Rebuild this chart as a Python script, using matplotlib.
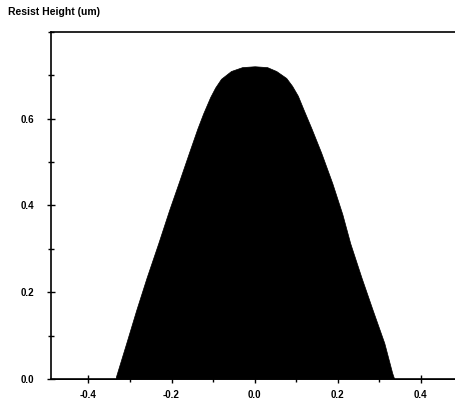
import numpy as np
import matplotlib
matplotlib.use("Agg")
import matplotlib.pyplot as plt
from matplotlib.ticker import MultipleLocator

# resist profile (position in um, height in um)
pos = [-0.49, -0.334, -0.334, -0.309, -0.285, -0.260, -0.232, -0.206, -0.182, -0.158,
       -0.138, -0.124, -0.107, -0.095, -0.081, -0.057, -0.030, 0.0,
       0.030, 0.052, 0.076, 0.090, 0.104, 0.119, 0.137, 0.160,
       0.187, 0.211, 0.230, 0.257, 0.284, 0.312, 0.331, 0.336, 0.5]
height = [0.0, 0.0, 0.005, 0.083, 0.159, 0.234, 0.313, 0.389, 0.455, 0.522,
          0.577, 0.612, 0.650, 0.672, 0.692, 0.710, 0.719, 0.721,
          0.719, 0.710, 0.694, 0.676, 0.653, 0.618, 0.577, 0.522,
          0.451, 0.380, 0.313, 0.234, 0.159, 0.083, 0.014, 0.0, 0.0]

x_ticks = [-0.4, -0.2, 0.0, 0.2, 0.4]
y_ticks = [0.0, 0.2, 0.4, 0.6]

plt.rcParams['font.family'] = ['Liberation Sans', 'DejaVu Sans']

fig = plt.figure(figsize=(4.56, 4.03), dpi=100, facecolor='white')
ax = fig.add_axes([0.112, 0.0596, 0.902, 0.861])

ax.fill_between(pos, height, 0, color='black', linewidth=0.5, edgecolor='black')

ax.set_xlim(-0.49, 0.5)
ax.set_ylim(0, 0.8)

ax.set_xticks(x_ticks)
ax.set_xticklabels([f"{v:.1f}" for v in x_ticks])
ax.set_yticks(y_ticks)
ax.set_yticklabels([f"{v:.1f}" for v in y_ticks])
ax.xaxis.set_minor_locator(MultipleLocator(0.1))
ax.yaxis.set_minor_locator(MultipleLocator(0.1))

ax.tick_params(axis='both', which='both', direction='inout', width=1.0, color='black')
ax.tick_params(axis='both', which='major', length=6, labelsize=7)
ax.tick_params(axis='both', which='minor', length=5)
ax.tick_params(axis='y', which='major', pad=9)
ax.tick_params(axis='x', which='major', pad=5)
for lbl in ax.get_xticklabels() + ax.get_yticklabels():
    lbl.set_fontweight('bold')

for s in ax.spines.values():
    s.set_linewidth(1.2)

fig.text(0.018, 0.97, "Resist Height (um)", fontsize=7.5, fontweight='bold',
         ha='left', va='center')

fig.savefig("out.png", dpi=100, facecolor='white')
